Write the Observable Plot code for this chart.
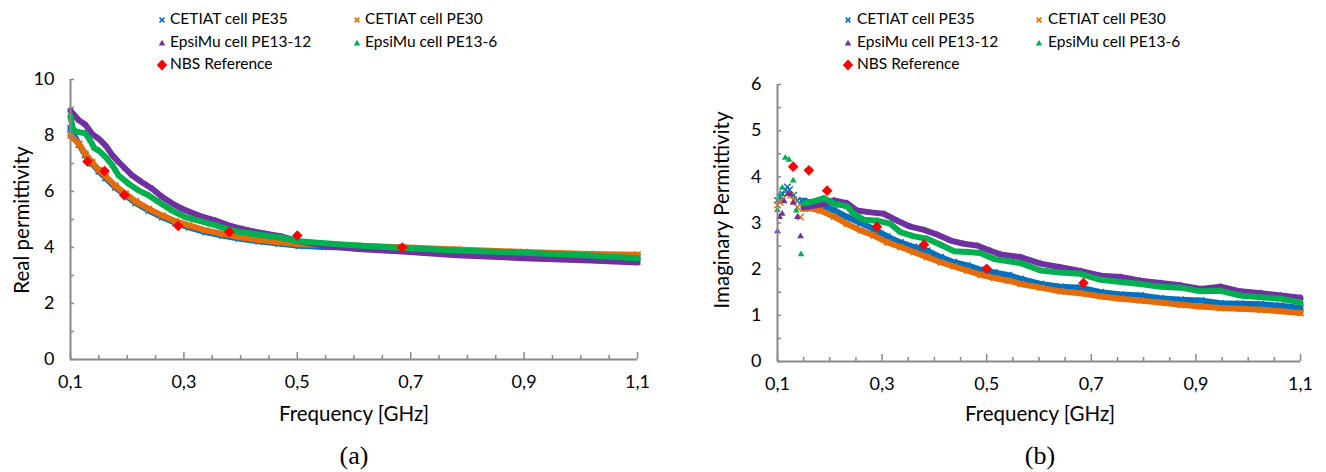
<!DOCTYPE html>
<html><head><meta charset="utf-8">
<script src="https://cdn.jsdelivr.net/npm/d3@7"></script>
<script src="https://cdn.jsdelivr.net/npm/@observablehq/plot@0.6"></script>
<style>
body{margin:0;background:#fff;font-family:Lato,"Open Sans",sans-serif;color:#000;}
#wrap{position:relative;width:1326px;height:472px;overflow:hidden;background:#fff;}
.abs{position:absolute;white-space:nowrap;}
.leg{position:absolute;font-size:15.5px;line-height:20px;white-space:nowrap;transform:translateY(-50%);}
.legsym{position:absolute;transform:translate(-50%,-50%);}
.axt{font-size:20.5px;}
.cap{font-family:"Liberation Serif","DejaVu Serif",serif;font-size:26px;}
</style></head><body><div id="wrap"></div>
<script>
// ---------- series meta ----------
const seriesNames = ["CETIAT cell PE35", "CETIAT cell PE30", "EpsiMu cell PE13-12", "EpsiMu cell PE13-6", "NBS Reference"];
const seriesColors = ["#0070C0", "#E46C0A", "#7030A0", "#00B050", "#FF0000"];
const seriesSymbols = ["times", "times", "triangle", "triangle", "diamond2"];

// ---------- panel (a): real permittivity ----------
const realF_PE35 = [0.1, 0.115, 0.126, 0.138, 0.15, 0.162, 0.179, 0.197, 0.215, 0.238, 0.262, 0.285, 0.309, 0.338, 0.368, 0.397, 0.432, 0.467, 0.503, 0.547, 0.606, 0.685, 0.782, 0.9, 1.017, 1.1];
const realV_PE35 = [8.25, 7.68, 7.30, 7.00, 6.72, 6.48, 6.15, 5.86, 5.59, 5.32, 5.08, 4.88, 4.72, 4.55, 4.43, 4.32, 4.22, 4.14, 4.06, 4.02, 3.99, 3.95, 3.88, 3.79, 3.71, 3.65];
const realF_PE30 = [0.1, 0.115, 0.126, 0.138, 0.15, 0.162, 0.179, 0.197, 0.215, 0.238, 0.262, 0.285, 0.309, 0.338, 0.368, 0.397, 0.432, 0.467, 0.503, 0.547, 0.606, 0.685, 0.782, 0.9, 1.017, 1.1];
const realV_PE30 = [8.0, 7.70, 7.35, 7.05, 6.77, 6.54, 6.21, 5.92, 5.65, 5.38, 5.14, 4.94, 4.79, 4.61, 4.49, 4.37, 4.27, 4.19, 4.12, 4.09, 4.06, 4.01, 3.93, 3.84, 3.77, 3.74];
const realF_PE13_12 = [0.1, 0.102, 0.115, 0.126, 0.138, 0.15, 0.162, 0.174, 0.185, 0.197, 0.209, 0.226, 0.244, 0.262, 0.279, 0.297, 0.326, 0.356, 0.385, 0.414, 0.444, 0.473, 0.503, 0.547, 0.606, 0.685, 0.782, 0.9, 1.017, 1.1];
const realV_PE13_12 = [8.9, 8.83, 8.54, 8.39, 8.06, 7.88, 7.64, 7.29, 7.05, 6.81, 6.57, 6.33, 6.10, 5.80, 5.58, 5.38, 5.14, 4.96, 4.75, 4.61, 4.49, 4.39, 4.22, 4.07, 3.95, 3.86, 3.72, 3.62, 3.54, 3.46];
const realF_PE13_6 = [0.1, 0.104, 0.109, 0.115, 0.126, 0.135, 0.142, 0.15, 0.162, 0.174, 0.185, 0.203, 0.22, 0.238, 0.256, 0.279, 0.303, 0.326, 0.356, 0.385, 0.414, 0.444, 0.473, 0.503, 0.547, 0.606, 0.685, 0.782, 0.9, 1.017, 1.1];
const realV_PE13_6 = [8.7, 8.25, 8.15, 8.12, 8.08, 7.82, 7.55, 7.46, 7.23, 6.93, 6.57, 6.27, 6.04, 5.86, 5.62, 5.32, 5.08, 4.96, 4.79, 4.61, 4.51, 4.43, 4.35, 4.22, 4.15, 4.07, 3.98, 3.89, 3.81, 3.71, 3.62];

// ---------- panel (b): imaginary permittivity ----------
const imagF_PE35 = [0.1, 0.105, 0.11, 0.115, 0.119, 0.123, 0.131, 0.138, 0.146, 0.15, 0.182, 0.208, 0.233, 0.259, 0.284, 0.31, 0.335, 0.361, 0.386, 0.412, 0.437, 0.463, 0.488, 0.514, 0.542, 0.565, 0.603, 0.641, 0.679, 0.718, 0.756, 0.794, 0.832, 0.871, 0.909, 0.947, 0.985, 1.024, 1.062, 1.1];
const imagV_PE35 = [3.49, 3.55, 3.63, 3.72, 3.78, 3.72, 3.60, 3.49, 3.48, 3.48, 3.40, 3.28, 3.13, 3.00, 2.87, 2.71, 2.58, 2.48, 2.40, 2.26, 2.15, 2.08, 1.99, 1.93, 1.87, 1.79, 1.68, 1.62, 1.60, 1.50, 1.45, 1.43, 1.37, 1.34, 1.32, 1.26, 1.25, 1.24, 1.21, 1.16];
const imagF_PE30 = [0.1, 0.105, 0.11, 0.119, 0.125, 0.131, 0.138, 0.144, 0.15, 0.163, 0.182, 0.208, 0.233, 0.259, 0.284, 0.31, 0.335, 0.361, 0.386, 0.412, 0.437, 0.463, 0.488, 0.514, 0.542, 0.565, 0.603, 0.641, 0.679, 0.718, 0.756, 0.794, 0.832, 0.871, 0.909, 0.947, 0.985, 1.024, 1.062, 1.1];
const imagV_PE30 = [3.39, 3.45, 3.53, 3.63, 3.60, 3.50, 3.34, 3.13, 3.31, 3.32, 3.27, 3.14, 2.98, 2.84, 2.73, 2.58, 2.48, 2.37, 2.26, 2.15, 2.06, 1.97, 1.88, 1.81, 1.75, 1.68, 1.60, 1.52, 1.48, 1.41, 1.36, 1.32, 1.28, 1.23, 1.19, 1.16, 1.14, 1.12, 1.09, 1.05];
const imagF_PE13_12 = [0.1, 0.104, 0.109, 0.113, 0.12, 0.125, 0.13, 0.138, 0.144, 0.15, 0.157, 0.182, 0.208, 0.233, 0.252, 0.278, 0.303, 0.329, 0.354, 0.38, 0.405, 0.431, 0.456, 0.482, 0.507, 0.526, 0.565, 0.603, 0.641, 0.679, 0.718, 0.756, 0.794, 0.832, 0.871, 0.909, 0.947, 0.985, 1.024, 1.062, 1.1];
const imagV_PE13_12 = [2.82, 3.13, 3.20, 3.47, 3.63, 3.62, 3.44, 3.13, 2.71, 3.34, 3.35, 3.40, 3.49, 3.43, 3.27, 3.23, 3.20, 3.05, 2.92, 2.85, 2.75, 2.62, 2.55, 2.51, 2.40, 2.32, 2.26, 2.12, 2.04, 1.96, 1.86, 1.83, 1.75, 1.70, 1.65, 1.57, 1.62, 1.52, 1.48, 1.43, 1.38];
const imagF_PE13_6 = [0.1, 0.104, 0.109, 0.115, 0.122, 0.13, 0.136, 0.145, 0.15, 0.176, 0.189, 0.208, 0.233, 0.246, 0.265, 0.291, 0.316, 0.335, 0.361, 0.386, 0.412, 0.437, 0.463, 0.488, 0.514, 0.542, 0.565, 0.603, 0.641, 0.679, 0.718, 0.756, 0.794, 0.832, 0.871, 0.909, 0.947, 0.985, 1.024, 1.062, 1.1];
const imagV_PE13_6 = [3.28, 3.60, 3.76, 4.41, 4.37, 3.92, 3.27, 2.32, 3.42, 3.49, 3.54, 3.42, 3.36, 3.20, 3.07, 3.05, 2.98, 2.80, 2.71, 2.66, 2.53, 2.39, 2.37, 2.35, 2.22, 2.17, 2.13, 1.97, 1.93, 1.90, 1.77, 1.72, 1.68, 1.62, 1.60, 1.52, 1.53, 1.43, 1.39, 1.36, 1.28];

// ---------- NBS reference ----------
const nbsF = [0.13, 0.16, 0.195, 0.29, 0.38, 0.5, 0.685];
const nbsReal = [7.07, 6.73, 5.87, 4.77, 4.55, 4.43, 4.0];
const nbsImag = [4.22, 4.14, 3.70, 2.92, 2.53, 2.01, 1.70];

// ---------- ticks ----------
const xTicksMajor = [0.1, 0.3, 0.5, 0.7, 0.9, 1.1];
const xTicksMinor = [0.15, 0.2, 0.25, 0.35, 0.4, 0.45, 0.55, 0.6, 0.65, 0.75, 0.8, 0.85, 0.95, 1.0, 1.05];
const yTicksA = [0, 2, 4, 6, 8, 10];
const yTicksAMinor = [1, 3, 5, 7, 9];
const yTicksB = [0, 1, 2, 3, 4, 5, 6];
const yTicksBMinor = [0.5, 1.5, 2.5, 3.5, 4.5, 5.5];

// ---------- texts ----------
const xTitle = "Frequency [GHz]";
const yTitleA = "Real permittivity";
const yTitleB = "Imaginary Permittivity";
const captionA = "(a)";
const captionB = "(b)";

const wrap = document.getElementById("wrap");
const axisColor = "#898989";
const fmtX = d => d.toFixed(1).replace(".", ",");

function toRows(f, v) { return f.map((x, i) => ({f: x, v: v[i]})); }

function panel(cfg) {
  const marks = [];
  cfg.series.forEach((s, k) => {
    const data = toRows(s.f, s.v);
    const c = seriesColors[k];
    marks.push(Plot.line(data.filter(d => d.f >= cfg.lineFrom), {x: "f", y: "v", stroke: c, strokeWidth: 6, strokeLinejoin: "round", strokeLinecap: "round"}));
    if (seriesSymbols[k] === "times") {
      marks.push(Plot.dot(data, {x: "f", y: "v", symbol: "times", r: 3, stroke: c, strokeWidth: 1.4}));
    } else {
      marks.push(Plot.dot(data, {x: "f", y: "v", symbol: "triangle", r: 2.5, fill: c, stroke: "none"}));
    }
  });
  marks.push(Plot.dot(toRows(nbsF, cfg.nbs), {x: "f", y: "v", symbol: "diamond2", r: 4.8, fill: seriesColors[4], stroke: "none"}));
  // axis lines
  marks.push(Plot.ruleY([0], {stroke: axisColor, strokeWidth: 2}));
  marks.push(Plot.ruleX([0.1], {stroke: axisColor, strokeWidth: 2}));
  // ticks (inward)
  marks.push(Plot.ruleX(xTicksMajor, {x: d => d, y1: 0, y2: 0, insetTop: -7, stroke: axisColor, strokeWidth: 1.5}));
  marks.push(Plot.ruleX(xTicksMinor, {x: d => d, y1: 0, y2: 0, insetTop: -4, stroke: axisColor, strokeWidth: 1.5}));
  marks.push(Plot.ruleY(cfg.yTicks.concat(cfg.yMinor), {y: d => d, x1: 0.1, x2: 0.1, insetRight: -4, stroke: axisColor, strokeWidth: 1.5}));
  // tick labels
  marks.push(Plot.axisX(xTicksMajor, {tickSize: 0, tickPadding: 16, tickFormat: fmtX, fontSize: 18, label: null, fill: "#000"}));
  marks.push(Plot.axisY(cfg.yTicks, {tickSize: 0, tickPadding: 16, tickFormat: d => String(d), fontSize: 18, label: null, fill: "#000"}));
  const svg = Plot.plot({
    width: cfg.width, height: 360,
    marginLeft: cfg.ml, marginRight: cfg.mr, marginTop: cfg.mt, marginBottom: cfg.mb,
    x: {domain: [0.1, 1.1]},
    y: {domain: cfg.yDomain},
    style: {fontFamily: "Lato, 'Open Sans', sans-serif", fontSize: "18px", color: "#000", background: "transparent", overflow: "visible"},
    marks
  });
  svg.style.position = "absolute";
  svg.style.left = cfg.left + "px";
  svg.style.top = "70px";
  wrap.appendChild(svg);
}

panel({
  left: 0, width: 660, ml: 70, mr: 23, mt: 9, mb: 71,
  yDomain: [0, 10], yTicks: yTicksA, yMinor: yTicksAMinor, lineFrom: 0.1, nbs: nbsReal,
  series: [
    {f: realF_PE35, v: realV_PE35},
    {f: realF_PE30, v: realV_PE30},
    {f: realF_PE13_12, v: realV_PE13_12},
    {f: realF_PE13_6, v: realV_PE13_6}
  ]
});
panel({
  left: 680, width: 646, ml: 97, mr: 26, mt: 14, mb: 69,
  yDomain: [0, 6], yTicks: yTicksB, yMinor: yTicksBMinor, lineFrom: 0.15, nbs: nbsImag,
  series: [
    {f: imagF_PE35, v: imagV_PE35},
    {f: imagF_PE30, v: imagV_PE30},
    {f: imagF_PE13_12, v: imagV_PE13_12},
    {f: imagF_PE13_6, v: imagV_PE13_6}
  ]
});

// ---------- HTML texts ----------
function addText(txt, cls, x, y, rot) {
  const d = document.createElement("div");
  d.className = "abs " + cls;
  d.textContent = txt;
  d.style.left = x + "px"; d.style.top = y + "px";
  d.style.transform = "translate(-50%,-50%)" + (rot ? " rotate(-90deg)" : "");
  wrap.appendChild(d);
}
addText(xTitle, "axt", 354, 413);
addText(xTitle, "axt", 1040, 413);
addText(captionA, "cap", 354, 456);
addText(captionB, "cap", 1040, 456);
addText(yTitleA, "axt", 21, 220, true);
addText(yTitleB, "axt", 721, 210, true);

// ---------- legends ----------
function symbolSvg(k) {
  const c = seriesColors[k];
  const s = seriesSymbols[k];
  let inner;
  if (s === "times") inner = `<path d="M4.6,4.6L9.4,9.4M9.4,4.6L4.6,9.4" stroke="${c}" stroke-width="1.6"/>`;
  else if (s === "triangle") inner = `<path d="M7,3.8L10.2,9.6L3.8,9.6Z" fill="${c}"/>`;
  else inner = `<path d="M7,1.5L12.2,7L7,12.5L1.8,7Z" fill="${c}"/>`;
  return `<svg width="14" height="14" viewBox="0 0 14 14">${inner}</svg>`;
}
function legend(symX, textX, col2SymX, col2TextX, rows) {
  const pos = [[0, 0], [1, 0], [0, 1], [1, 1], [0, 2]];
  seriesNames.forEach((name, k) => {
    const [col, row] = pos[k];
    const sx = col ? col2SymX : symX, tx = col ? col2TextX : textX;
    const y = rows[row];
    const sym = document.createElement("div");
    sym.className = "legsym"; sym.style.left = sx + "px"; sym.style.top = y + "px";
    sym.style.width = "14px"; sym.style.height = "14px";
    sym.innerHTML = symbolSvg(k);
    wrap.appendChild(sym);
    const t = document.createElement("div");
    t.className = "leg"; t.textContent = name;
    t.style.left = tx + "px"; t.style.top = y + "px";
    wrap.appendChild(t);
  });
}
legend(162, 170, 357, 365, [18, 41, 63]);
legend(848, 857, 1039, 1048, [18, 41, 63]);
</script></body></html>
